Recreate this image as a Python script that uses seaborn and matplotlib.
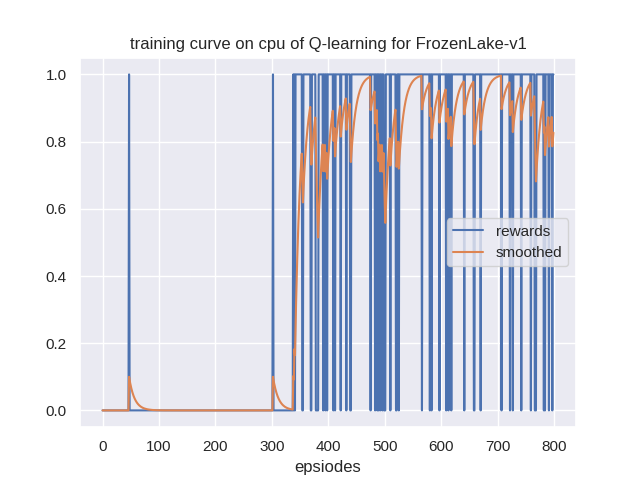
import numpy as np
import pandas as pd
import matplotlib
matplotlib.use("Agg")
import matplotlib.pyplot as plt
import seaborn as sns

# number of episodes
n_episodes = 800
# runs of episodes with reward 1 (inclusive start, end)
success_runs = [
    (47, 47), (302, 302), (338, 338), (340, 340), (342, 353), (356, 368),
    (371, 377), (383, 390), (392, 394), (396, 397), (399, 408), (410, 411),
    (413, 421), (423, 431), (433, 438), (441, 474), (476, 482), (484, 486),
    (488, 488), (490, 491), (493, 495), (497, 498), (502, 509), (511, 519),
    (522, 524), (526, 565), (567, 579), (581, 582), (584, 596), (598, 608),
    (610, 612), (614, 617), (619, 640), (642, 657), (660, 669), (671, 706),
    (708, 721), (723, 726), (728, 741), (743, 758), (760, 765), (769, 781),
    (783, 783), (785, 790), (792, 796), (798, 799),
]

rewards = np.zeros(n_episodes)
for a, b in success_runs:
    rewards[a:b + 1] = 1.0

# exponential moving average, as in the original training script
smoothed = []
for r in rewards:
    if smoothed:
        smoothed.append(smoothed[-1] * 0.9 + r * 0.1)
    else:
        smoothed.append(r)

df = pd.DataFrame({"episode": np.arange(n_episodes), "rewards": rewards, "smoothed": smoothed})

sns.set_theme(style="darkgrid")
plt.rcParams["font.family"] = ["Liberation Sans", "DejaVu Sans"]
fig, ax = plt.subplots(figsize=(6.4, 4.8), dpi=100)
sns.lineplot(data=df, x="episode", y="rewards", ax=ax, label="rewards")
sns.lineplot(data=df, x="episode", y="smoothed", ax=ax, label="smoothed")
ax.set_title("training curve on cpu of Q-learning for FrozenLake-v1")
ax.set_xlabel("epsiodes")
ax.set_ylabel("")
ax.legend(loc="center right")
fig.savefig("out.png", dpi=100)
